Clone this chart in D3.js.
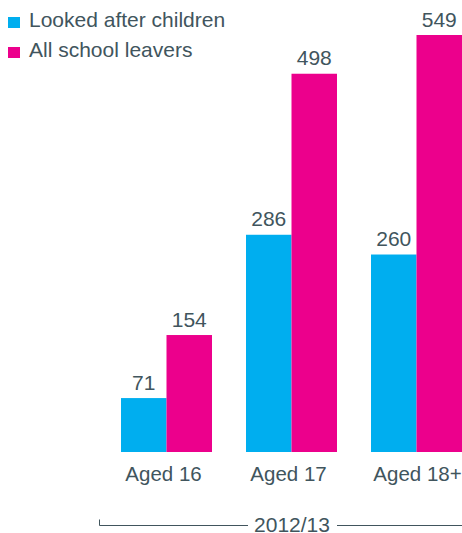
<!DOCTYPE html>
<html>
<head>
<meta charset="utf-8">
<script src="https://cdn.jsdelivr.net/npm/d3@7"></script>
<style>
  html, body { margin: 0; padding: 0; background: #fff; }
  svg { display: block; font-family: "Liberation Sans", Arial, sans-serif; }
</style>
</head>
<body>
<svg id="chart" width="462" height="533"></svg>
<script>
// School leavers by age, 2012/13
const categories = ["Aged 16", "Aged 17", "Aged 18+"];
const seriesNames = ["Looked after children", "All school leavers"];
const lookedAfter = [71, 286, 260];
const allLeavers = [154, 498, 549];
const periodLabel = "2012/13";

const colors = ["#00aeef", "#ec008c"];
const textColor = "#41555d";

const svg = d3.select("#chart");

// category groups, the last one running to the right edge
const x0 = d3.scaleBand()
  .domain(categories)
  .range([121, 462])
  .paddingInner(0.272)
  .paddingOuter(0);

const xs = d3.scaleBand().domain(seriesNames).range([0, x0.bandwidth()]);

const y = d3.scaleLinear().domain([0, 549]).range([452, 35]);

const series = [lookedAfter, allLeavers];

categories.forEach((cat, i) => {
  const g = svg.append("g").attr("transform", `translate(${x0(cat)},0)`);
  seriesNames.forEach((s, j) => {
    const v = series[j][i];
    g.append("rect")
      .attr("x", xs(s))
      .attr("y", y(v))
      .attr("width", xs.bandwidth())
      .attr("height", y(0) - y(v))
      .attr("fill", colors[j]);
    g.append("text")
      .attr("x", xs(s) + xs.bandwidth() / 2)
      .attr("y", y(v) - 8.5)
      .attr("text-anchor", "middle")
      .attr("font-size", 21)
      .attr("fill", textColor)
      .text(v);
  });
});

// category axis labels
const xAxis = d3.axisBottom(x0).tickSize(0).tickPadding(0);
const axisG = svg.append("g").attr("transform", "translate(0,481)").call(xAxis);
axisG.select(".domain").remove();
axisG.selectAll("text")
  .attr("dy", 0)
  .attr("x", (d, i) => (i < categories.length - 1 ? -3 : 1))
  .attr("font-size", 20.5)
  .attr("font-family", "Liberation Sans, Arial, sans-serif")
  .attr("fill", textColor);

// period bracket
const bracketY = 525.5;
const labelCx = 292;
svg.append("path")
  .attr("d", `M99.5,${bracketY - 6}V${bracketY}H248 M337,${bracketY}H462`)
  .attr("fill", "none")
  .attr("stroke", textColor)
  .attr("stroke-width", 1);
svg.append("text")
  .attr("x", labelCx)
  .attr("y", 532)
  .attr("text-anchor", "middle")
  .attr("font-size", 21)
  .attr("fill", textColor)
  .text(periodLabel);

// legend
const legend = svg.append("g");
seriesNames.forEach((s, j) => {
  const ly = 27 + j * 30;
  legend.append("rect")
    .attr("x", 8).attr("y", ly - 10)
    .attr("width", 12).attr("height", 11)
    .attr("fill", colors[j]);
  legend.append("text")
    .attr("x", 29).attr("y", ly)
    .attr("font-size", 21)
    .attr("fill", textColor)
    .text(s);
});
</script>
</body>
</html>
